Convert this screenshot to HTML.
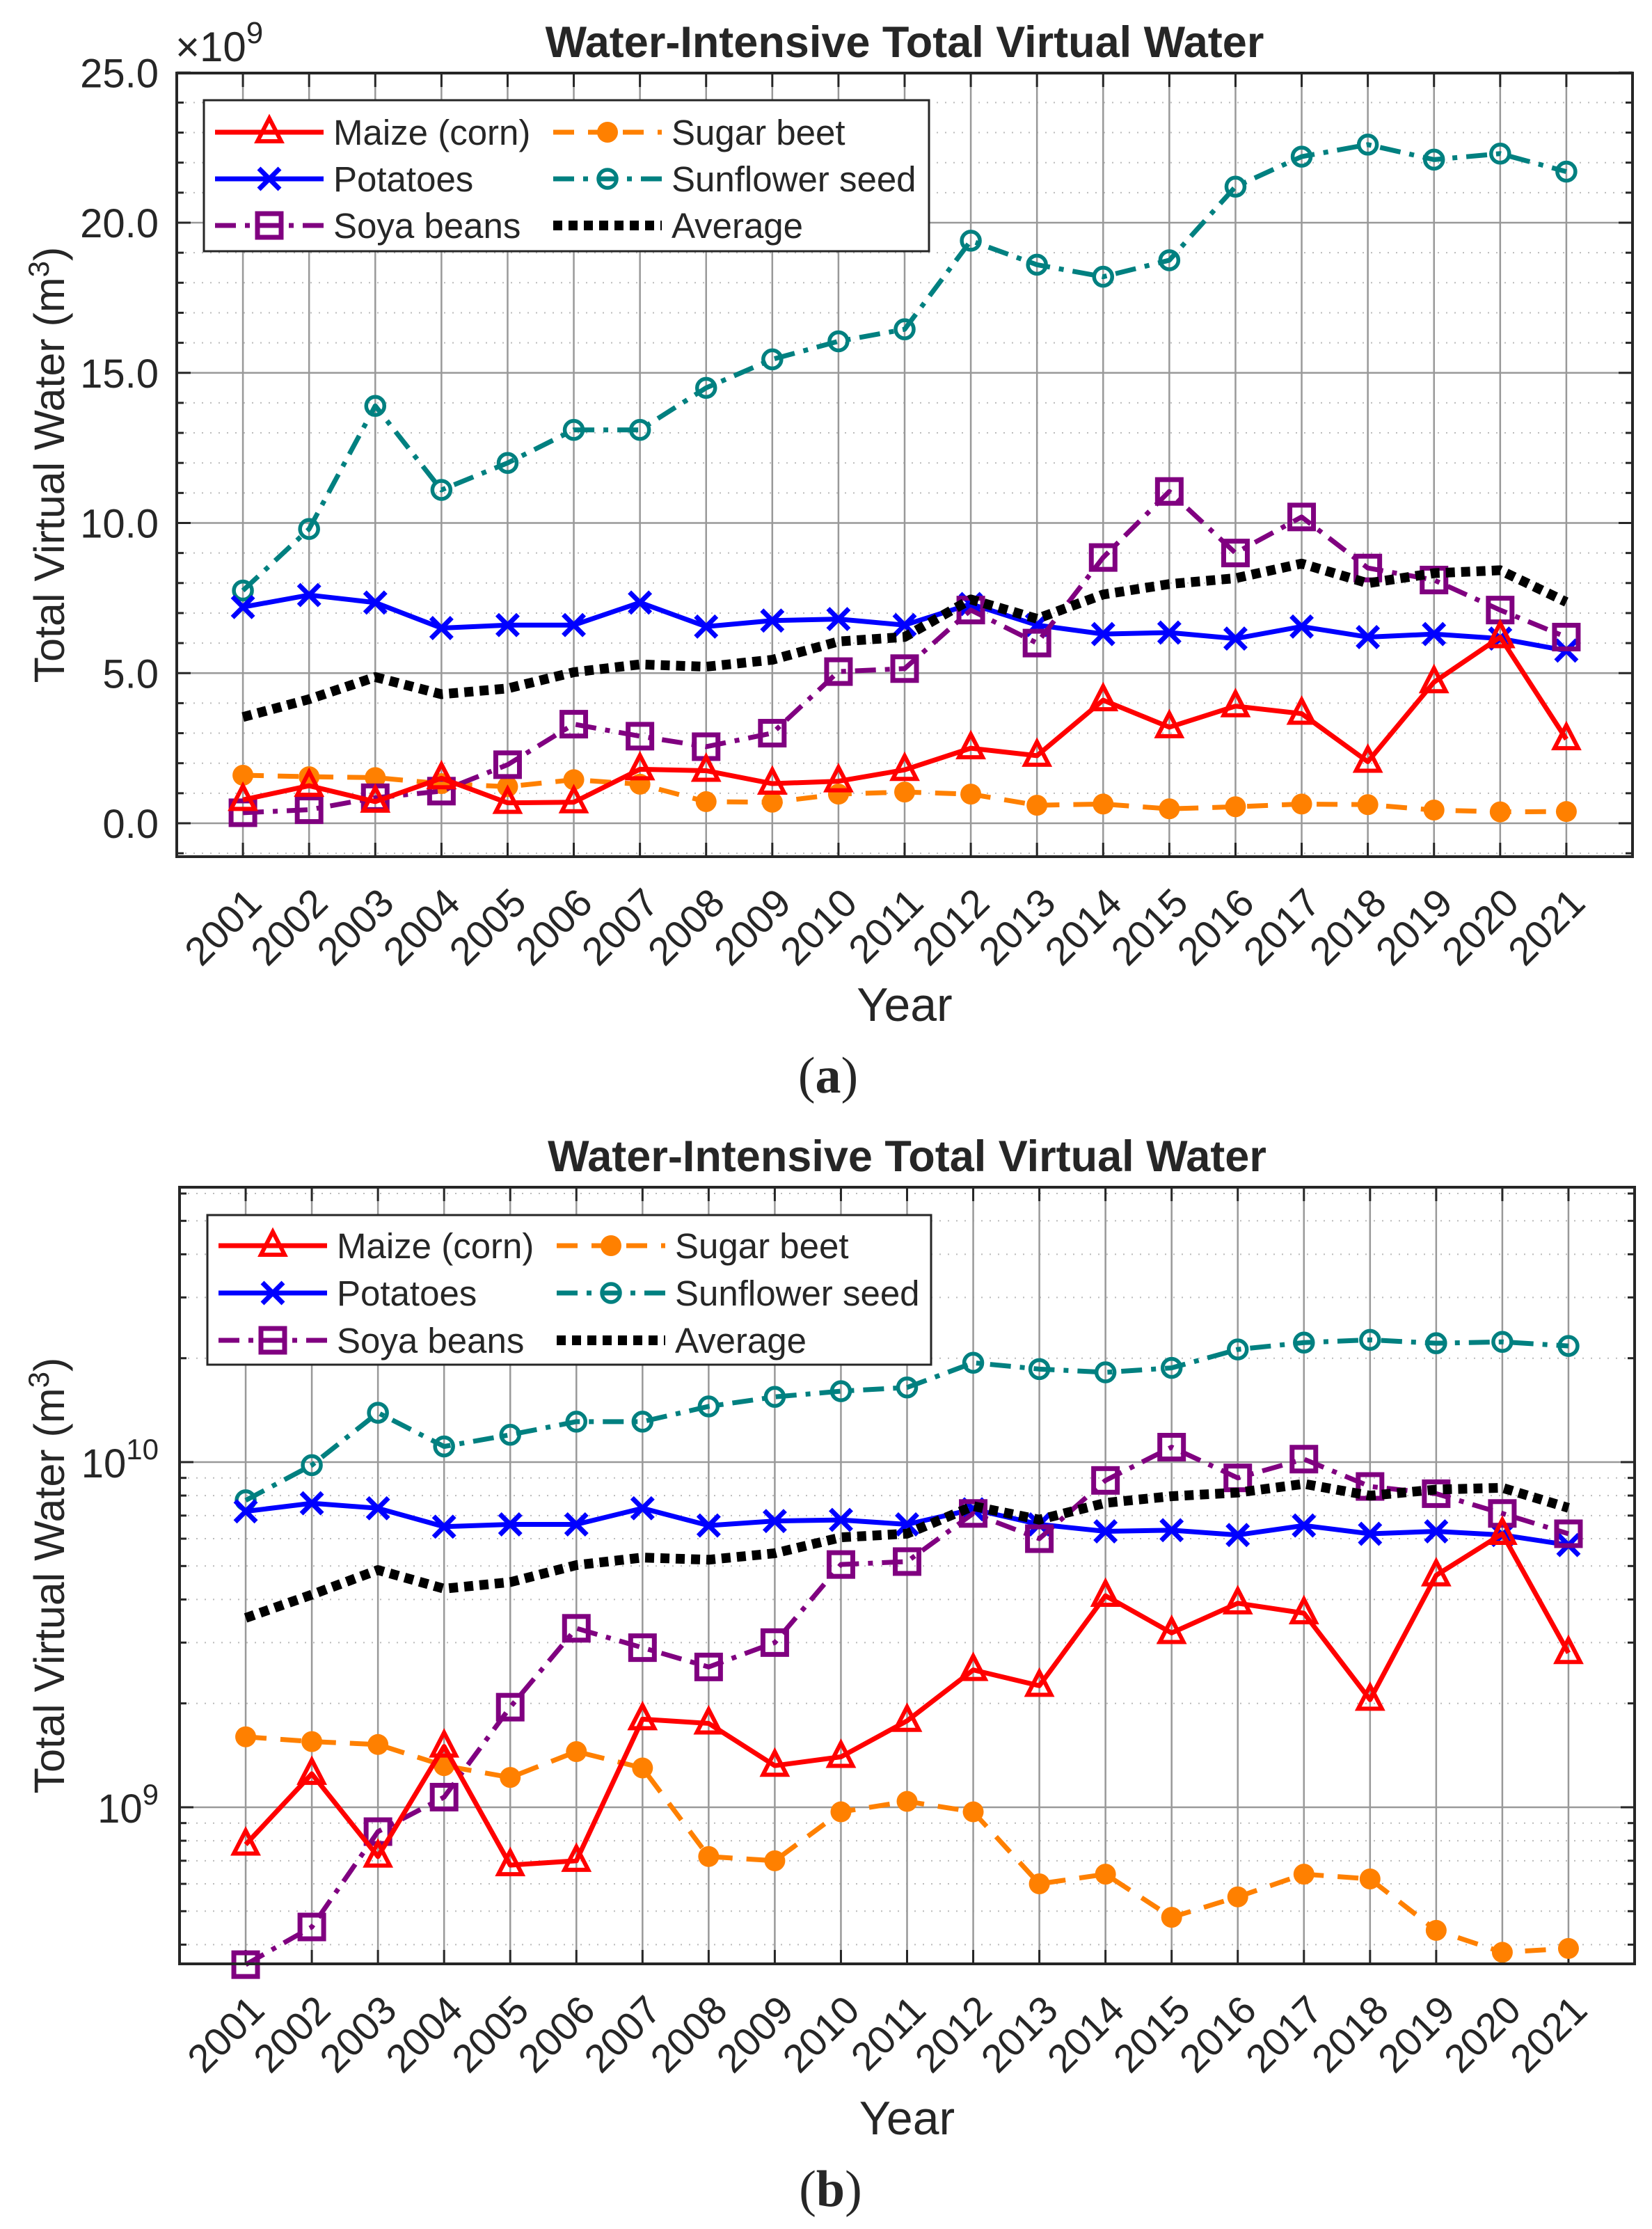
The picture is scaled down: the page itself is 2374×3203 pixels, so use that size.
<!DOCTYPE html>
<html><head><meta charset="utf-8"><style>
html,body{margin:0;padding:0;background:#fff;}
svg{display:block;}
text{font-family:"Liberation Sans",Arial,sans-serif;fill:#262626;}
</style></head><body>
<svg id="s" width="2374" height="3203" viewBox="0 0 2374 3203" xmlns="http://www.w3.org/2000/svg"></svg>
<script>
const S=document.getElementById('s');
let h='';
const yrs=[];for(let y=2001;y<=2021;y++)yrs.push(y);
const D={
maize:[0.78,1.25,0.72,1.5,0.68,0.70,1.8,1.75,1.32,1.40,1.78,2.5,2.25,4.1,3.2,3.9,3.65,2.05,4.7,6.2,2.8],
beet:[1.6,1.55,1.52,1.32,1.22,1.45,1.3,0.72,0.70,0.97,1.04,0.97,0.60,0.64,0.48,0.55,0.64,0.62,0.44,0.38,0.39],
pot:[7.2,7.6,7.35,6.5,6.6,6.6,7.35,6.55,6.75,6.8,6.6,7.3,6.6,6.3,6.35,6.15,6.55,6.2,6.3,6.15,5.75],
sun:[7.75,9.8,13.9,11.1,12.0,13.1,13.1,14.5,15.45,16.05,16.45,19.4,18.6,18.2,18.75,21.2,22.2,22.6,22.1,22.3,21.7],
soy:[0.35,0.45,0.85,1.07,1.95,3.3,2.9,2.55,3.0,5.05,5.15,7.1,6.0,8.85,11.05,9.0,10.2,8.5,8.1,7.1,6.2]};
D.avg=yrs.map((_,i)=>(D.maize[i]+D.beet[i]+D.pot[i]+D.sun[i]+D.soy[i])/5);
function marker(t,x,y,c){
 if(t==='tri')return `<path d="M${x} ${y-20}L${x+17} ${y+13}L${x-17} ${y+13}Z" fill="none" stroke="${c}" stroke-width="6"/>`;
 if(t==='x')return `<path d="M${x-15} ${y-15}L${x+15} ${y+15}M${x-15} ${y+15}L${x+15} ${y-15}" stroke="${c}" stroke-width="7"/>`;
 if(t==='sq')return `<rect x="${x-17}" y="${y-17}" width="34" height="34" fill="none" stroke="${c}" stroke-width="7"/>`;
 if(t==='dot')return `<circle cx="${x}" cy="${y}" r="15" fill="${c}"/>`;
 if(t==='o')return `<circle cx="${x}" cy="${y}" r="13" fill="none" stroke="${c}" stroke-width="5.5"/>`;
 return '';
}
const SER=[
 {k:'beet',c:'#ff8000',m:'dot',d:'30 20',w:7},
 {k:'sun',c:'#008080',m:'o',d:'30 13 7 13',w:7},
 {k:'pot',c:'#0000ff',m:'x',d:'',w:7},
 {k:'soy',c:'#800080',m:'sq',d:'30 13 7 13',w:7},
 {k:'avg',c:'#000000',m:'',d:'13 9',w:14},
 {k:'maize',c:'#ff0000',m:'tri',d:'',w:7}];
function panel(o){
 const {L,R,T,B,X,Y,titleY,yearY,lab,labY}=o;
 for(const v of o.minor){const y=Y(v);if(y<T||y>B)continue;
  h+=`<line x1="${L}" x2="${R}" y1="${y}" y2="${y}" stroke="#bbb" stroke-width="2" stroke-dasharray="2 10"/>`;
  h+=`<line x1="${L}" x2="${L+10}" y1="${y}" y2="${y}" stroke="#262626" stroke-width="3"/><line x1="${R-10}" x2="${R}" y1="${y}" y2="${y}" stroke="#262626" stroke-width="3"/>`;}
 for(const v of o.major){const y=Y(v);
  h+=`<line x1="${L}" x2="${R}" y1="${y}" y2="${y}" stroke="#999" stroke-width="2.5"/>`;
  h+=`<line x1="${L}" x2="${L+20}" y1="${y}" y2="${y}" stroke="#262626" stroke-width="3"/><line x1="${R-20}" x2="${R}" y1="${y}" y2="${y}" stroke="#262626" stroke-width="3"/>`;}
 yrs.forEach(yr=>{const x=X(yr);
  h+=`<line x1="${x}" x2="${x}" y1="${T}" y2="${B}" stroke="#999" stroke-width="2.5"/>`;
  h+=`<line x1="${x}" x2="${x}" y1="${T}" y2="${T+20}" stroke="#262626" stroke-width="3"/><line x1="${x}" x2="${x}" y1="${B-20}" y2="${B}" stroke="#262626" stroke-width="3"/>`;
  h+=`<text transform="translate(${x+30},${B+70}) rotate(-45)" text-anchor="end" font-size="57">${yr}</text>`;});
 for(const s of SER){
  const pts=yrs.map((yr,i)=>[X(yr),Y(D[s.k][i])]);
  h+=`<polyline points="${pts.map(p=>p.join(',')).join(' ')}" fill="none" stroke="${s.c}" stroke-width="${s.w}" ${s.d?`stroke-dasharray="${s.d}"`:''} stroke-linejoin="round"/>`;
  if(s.m)pts.forEach(p=>h+=marker(s.m,p[0],p[1],s.c));
 }
 h+=`<rect x="${L}" y="${T}" width="${R-L}" height="${B-T}" fill="none" stroke="#262626" stroke-width="4"/>`;
 const lg=o.lg;
 h+=`<rect x="${lg.x}" y="${lg.y}" width="${lg.w}" height="${lg.h}" fill="#fff" stroke="#262626" stroke-width="3"/>`;
 const items=[['maize','Maize (corn)',0,0],['pot','Potatoes',0,1],['soy','Soya beans',0,2],['beet','Sugar beet',1,0],['sun','Sunflower seed',1,1],['avg','Average',1,2]];
 items.forEach(([k,t,c,r])=>{const s=SER.find(q=>q.k===k);
  const x0=lg.x+16+c*(lg.c2), y=lg.r0+r*lg.dr;
  h+=`<line x1="${x0}" x2="${x0+156}" y1="${y}" y2="${y}" stroke="${s.c}" stroke-width="${s.w}" ${s.d?`stroke-dasharray="${s.d}"`:''}/>`;
  if(s.m)h+=marker(s.m,x0+78,y,s.c);
  h+=`<text x="${x0+170}" y="${y+18}" font-size="51" fill="#000">${t}</text>`;});
 h+=`<text x="${(L+R)/2}" y="${titleY}" text-anchor="middle" font-size="63" font-weight="bold" fill="#000">Water-Intensive Total Virtual Water</text>`;
 h+=`<text x="${(L+R)/2}" y="${yearY}" text-anchor="middle" font-size="68">Year</text>`;
 h+=`<text transform="translate(92,${(T+B)/2}) rotate(-90)" text-anchor="middle" font-size="61">Total Virtual Water (m<tspan dy="-22" font-size="42">3</tspan><tspan dy="22">)</tspan></text>`;
 h+=`<text x="${(L+R)/2-110}" y="${labY}" text-anchor="middle" font-size="74" style="font-family:'Liberation Serif',serif" fill="#000">(<tspan font-weight="bold">${lab}</tspan>)</text>`;
}
{const L=254,R=2346,T=105,B=1231;
 const X=yr=>L+(yr-2000)*(R-L)/22, Y=v=>1183-v*43.15;
 const minor=[];for(let v=-1;v<=25;v++)if(v%5)minor.push(v);
 panel({L,R,T,B,X,Y,minor,major:[0,5,10,15,20,25],titleY:82,yearY:1467,lab:'a',labY:1570,
  lg:{x:293,y:144,w:1042,h:217,c2:486,r0:190,dr:67}});
 [0,5,10,15,20,25].forEach(v=>h+=`<text x="228" y="${Y(v)+21}" text-anchor="end" font-size="58">${v.toFixed(1)}</text>`);
 h+=`<text x="252" y="88" font-size="60">×10<tspan dy="-26" font-size="44">9</tspan></text>`;
}
{const L=258,R=2349,T=1706,B=2822;
 const X=yr=>L+(yr-2000)*(R-L)/22, Y=v=>2597-(Math.log10(v*1e9)-9)*496;
 const minor=[];for(const e of [8,9,10])for(let m=2;m<=9;m++)minor.push(m*Math.pow(10,e-9));
 panel({L,R,T,B,X,Y,minor,major:[1,10],titleY:1683,yearY:3067,lab:'b',labY:3170,
  lg:{x:298,y:1746,w:1040,h:215,c2:486,r0:1790,dr:68}});
 h+=`<text x="228" y="${Y(10)+22}" text-anchor="end" font-size="58">10<tspan dy="-26" font-size="42">10</tspan></text>`;
 h+=`<text x="228" y="${Y(1)+22}" text-anchor="end" font-size="58">10<tspan dy="-26" font-size="42">9</tspan></text>`;
}
S.innerHTML=h;
</script>
</body></html>
